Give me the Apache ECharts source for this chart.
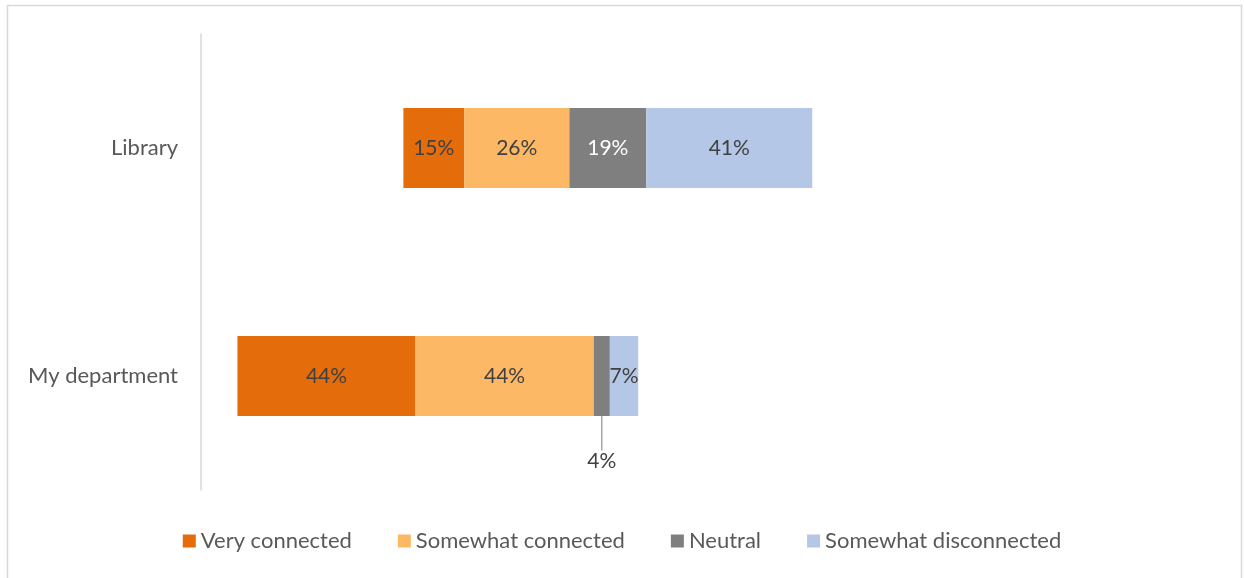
<!DOCTYPE html>
<html>
<head>
<meta charset="utf-8">
<script src="https://cdn.jsdelivr.net/npm/echarts@6/dist/echarts.min.js"></script>
<style>
  html, body { margin: 0; padding: 0; background: #ffffff; }
  #chart { width: 1244px; height: 578px; }
</style>
</head>
<body>
<div id="chart"></div>
<script>
// Sense of connection, by group (percent of respondents)
const categories = ['Library', 'My department'];
const seriesNames = ['Very connected', 'Somewhat connected', 'Neutral', 'Somewhat disconnected'];
const veryConnected = [15, 44];
const somewhatConnected = [26, 44];
const neutral = [19, 4];
const somewhatDisconnected = [41, 7];
// invisible lead-in so the bars sit around the neutral midpoint
const spacer = [50, 9];

const colors = ['#E46C0A', '#FCB865', '#7F7F7F', '#B4C7E7'];
const FONT = 'Lato, "Open Sans", sans-serif';

const chart = echarts.init(document.getElementById('chart'), null, { renderer: 'canvas' });

function segment(name, values, color, labelColor) {
  return {
    name: name,
    type: 'bar',
    stack: 'total',
    barWidth: 80,
    data: values.map(v => ({ value: v })),
    itemStyle: { color: color },
    label: {
      show: true,
      position: 'inside',
      formatter: p => p.value + '%',
      color: labelColor,
      fontFamily: FONT,
      fontSize: 21
    },
    emphasis: { disabled: true }
  };
}

const neutralSeries = segment(seriesNames[2], neutral, colors[2], '#FFFFFF');
// the narrow neutral slice in "My department" takes its label below, with a leader line
neutralSeries.data[1] = {
  value: neutral[1],
  label: { color: '#404040', padding: [14, 0, 0, 0] },
  labelLine: { show: true, lineStyle: { color: '#A6A6A6', width: 1.5 } }
};
neutralSeries.labelLayout = function (params) {
  if (params.dataIndex === 1) {
    return { dy: 85 };
  }
  return {};
};

const option = {
  backgroundColor: '#ffffff',
  animation: false,
  graphic: [{
    type: 'rect',
    shape: { x: 7.5, y: 5.5, width: 1234, height: 580 },
    style: { fill: 'none', stroke: '#D9D9D9', lineWidth: 1.5 },
    silent: true
  }],
  grid: { left: 201, right: 31, top: 34, bottom: 88, containLabel: false },
  xAxis: {
    type: 'value',
    min: 0,
    max: 250,
    show: false
  },
  yAxis: {
    type: 'category',
    data: categories,
    inverse: true,
    axisLine: { show: true, lineStyle: { color: '#D9D9D9', width: 1.5 } },
    axisTick: { show: false },
    axisLabel: { color: '#595959', fontFamily: FONT, fontSize: 22, margin: 23 }
  },
  legend: {
    data: seriesNames,
    bottom: 21,
    left: 'center',
    itemWidth: 13,
    itemHeight: 13,
    itemGap: 46,
    icon: 'rect',
    textStyle: { color: '#595959', fontFamily: FONT, fontSize: 22 },
    selectedMode: false
  },
  series: [
    {
      name: 'spacer',
      type: 'bar',
      stack: 'total',
      barWidth: 80,
      data: spacer,
      itemStyle: { color: 'transparent' },
      label: { show: false },
      emphasis: { disabled: true },
      silent: true
    },
    segment(seriesNames[0], veryConnected, colors[0], '#404040'),
    segment(seriesNames[1], somewhatConnected, colors[1], '#404040'),
    neutralSeries,
    segment(seriesNames[3], somewhatDisconnected, colors[3], '#404040')
  ]
};

chart.setOption(option);
</script>
</body>
</html>
